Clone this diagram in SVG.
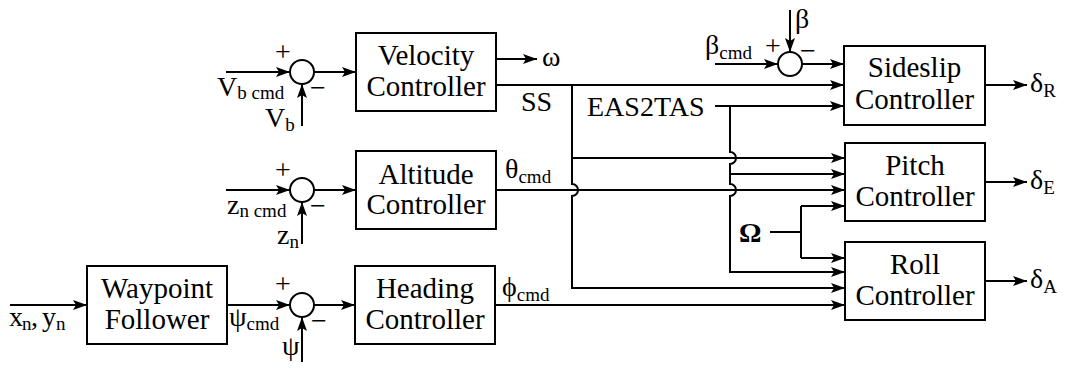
<svg xmlns="http://www.w3.org/2000/svg" width="1068" height="369" viewBox="0 0 1068 369">
<style>
.box{fill:#fff;stroke:#000;stroke-width:2}
.sum{fill:#fff;stroke:#000;stroke-width:2}
.w{fill:none;stroke:#000;stroke-width:2}
.a{marker-end:url(#arr)}
text{font-family:"Liberation Serif","Times New Roman","DejaVu Serif",serif;fill:#000}
.bl{font-size:29px;text-anchor:middle}
.lb{font-size:28px}
.sb{font-size:19px}
.pm{font-size:28px;text-anchor:middle}
</style>
<defs>
<marker id="arr" markerUnits="userSpaceOnUse" markerWidth="14" markerHeight="10" viewBox="0 0 14 10" refX="14" refY="5" orient="auto">
<path d="M0,0 L14,5 L0,10 L3,5 Z" fill="#000"/>
</marker>
</defs>
<rect width="1068" height="369" fill="#fff"/>

<g id="connectors">
<path class="w a" d="M226,72 H290"/>
<path class="w a" d="M302,126 V84"/>
<path class="w a" d="M314,72 H356"/>
<path class="w a" d="M496,59 H537"/>
<path class="w a" d="M496,85 H844"/>

<path class="w a" d="M226,190 H290"/>
<path class="w a" d="M302,244 V202"/>
<path class="w a" d="M314,190 H356"/>
<path class="w a" d="M496,190 H845"/>

<path class="w a" d="M10,305 H87"/>
<path class="w a" d="M227,305 H290"/>
<path class="w a" d="M302,362 V317"/>
<path class="w a" d="M314,305 H355"/>
<path class="w a" d="M495,305 H845"/>

<path class="w a" d="M715,64 H778"/>
<path class="w a" d="M790,10 V52"/>
<path class="w a" d="M802,64 H844"/>
<path class="w a" d="M715,106 H844"/>

<path class="w a" d="M572,85 V184 A6,6 0 0 1 572,196 V288 H845"/>
<path class="w a" d="M572,158 H845"/>
<path class="w a" d="M730,106 V152 A6,6 0 0 1 730,164 V184 A6,6 0 0 1 730,196 V272 H845"/>
<path class="w a" d="M730,174 H845"/>
<path class="w" d="M770,232 H801 M801,206 V258"/>
<path class="w a" d="M801,206 H845"/>
<path class="w a" d="M801,258 H845"/>

<path class="w a" d="M985,85 H1027"/>
<path class="w a" d="M985,182 H1027"/>
<path class="w a" d="M985,281 H1027"/>
</g>

<g id="velocity-sum">
<circle class="sum" cx="302" cy="72" r="12"/>
<text class="pm" x="283" y="61">+</text>
<text class="pm" x="318" y="97">−</text>
<text class="lb" x="217" y="96">V<tspan class="sb" dy="3">b cmd</tspan></text>
<text class="lb" x="265" y="127">V<tspan class="sb" dy="4">b</tspan></text>
</g>
<g id="velocity-controller">
<rect class="box" x="356" y="33" width="140" height="78"/>
<text class="bl" x="426" y="65">Velocity</text>
<text class="bl" x="426" y="96">Controller</text>
</g>
<text class="lb" x="542" y="66">ω</text>
<text class="lb" x="521" y="111">SS</text>
<text class="lb" x="587" y="116">EAS2TAS</text>

<g id="altitude-sum">
<circle class="sum" cx="302" cy="190" r="12"/>
<text class="pm" x="283" y="179">+</text>
<text class="pm" x="318" y="215">−</text>
<text class="lb" x="227" y="214">z<tspan class="sb" dy="3">n cmd</tspan></text>
<text class="lb" x="277" y="244">z<tspan class="sb" dy="4">n</tspan></text>
</g>
<g id="altitude-controller">
<rect class="box" x="356" y="151" width="140" height="78"/>
<text class="bl" x="426" y="184">Altitude</text>
<text class="bl" x="426" y="214">Controller</text>
</g>
<text class="lb" x="505" y="178">θ<tspan class="sb" dy="5">cmd</tspan></text>

<g id="waypoint-follower">
<rect class="box" x="87" y="266" width="140" height="78"/>
<text class="bl" x="157" y="298">Waypoint</text>
<text class="bl" x="157" y="329">Follower</text>
</g>
<text class="lb" x="9" y="326">x</text><text class="sb" x="22" y="330">n</text>
<text class="lb" x="31" y="326">,</text>
<text class="lb" x="42" y="326">y</text><text class="sb" x="56" y="330">n</text>

<g id="heading-sum">
<circle class="sum" cx="302" cy="305" r="12"/>
<text class="pm" x="283" y="293">+</text>
<text class="pm" x="319" y="330">−</text>
<text class="lb" x="229" y="326">ψ<tspan class="sb" dy="4">cmd</tspan></text>
<text class="lb" x="282" y="355">ψ</text>
</g>
<g id="heading-controller">
<rect class="box" x="355" y="266" width="140" height="78"/>
<text class="bl" x="425" y="298">Heading</text>
<text class="bl" x="425" y="329">Controller</text>
</g>
<text class="lb" x="502" y="296">ϕ<tspan class="sb" dy="5">cmd</tspan></text>

<g id="sideslip-sum">
<circle class="sum" cx="790" cy="64" r="12"/>
<text class="pm" x="773" y="55">+</text>
<text class="pm" x="808" y="60">−</text>
<text class="lb" x="705" y="54">β<tspan class="sb" dy="5">cmd</tspan></text>
<text class="lb" x="795" y="28">β</text>
</g>
<g id="sideslip-controller">
<rect class="box" x="844" y="46" width="141" height="79"/>
<text class="bl" x="914.5" y="77">Sideslip</text>
<text class="bl" x="914.5" y="109">Controller</text>
</g>
<g id="pitch-controller">
<rect class="box" x="845" y="143" width="140" height="78"/>
<text class="bl" x="915" y="175">Pitch</text>
<text class="bl" x="915" y="206">Controller</text>
</g>
<g id="roll-controller">
<rect class="box" x="845" y="242" width="140" height="78"/>
<text class="bl" x="915" y="274">Roll</text>
<text class="bl" x="915" y="305">Controller</text>
</g>
<text class="lb" x="739" y="242" font-weight="bold">Ω</text>

<text class="lb" x="1030" y="92">δ<tspan class="sb" dy="5">R</tspan></text>
<text class="lb" x="1030" y="189">δ<tspan class="sb" dy="5">E</tspan></text>
<text class="lb" x="1030" y="288">δ<tspan class="sb" dy="5">A</tspan></text>
</svg>
